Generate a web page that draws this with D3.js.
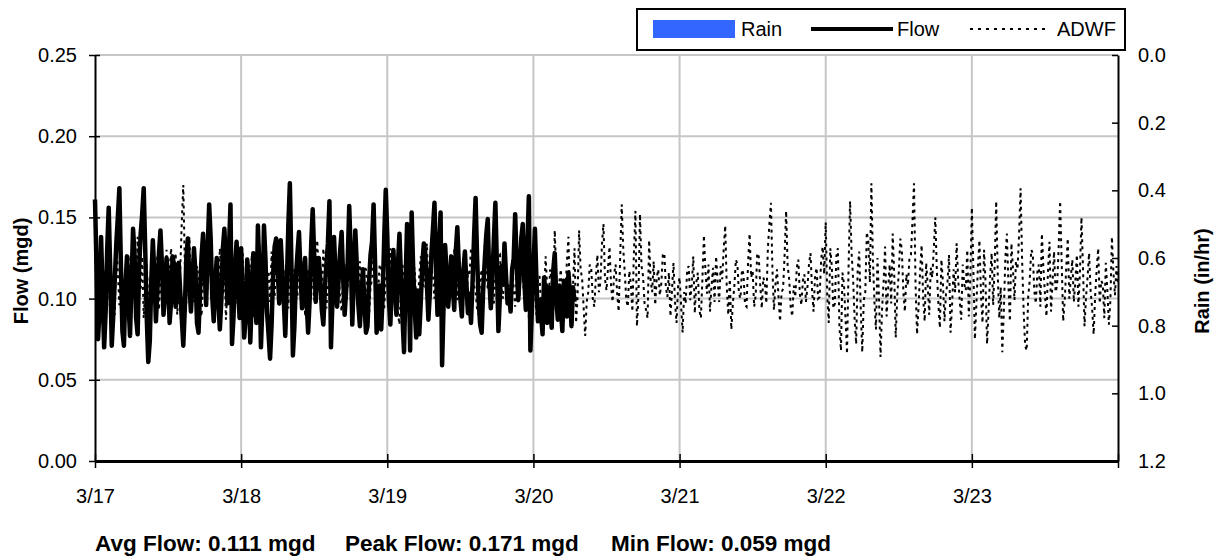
<!DOCTYPE html>
<html>
<head>
<meta charset="utf-8">
<script src="https://cdn.jsdelivr.net/npm/d3@7"></script>
<style>
  html, body { margin: 0; padding: 0; background: #fff; }
  svg { display: block; font-family: "Liberation Sans", Arial, sans-serif; }
</style>
</head>
<body>
<svg id="chart" width="1216" height="557"></svg>
<script>
// ---- data -------------------------------------------------------------
const startTime = Date.UTC(2021, 2, 17);      // 3/17 00:00
const endTime = Date.UTC(2021, 2, 24);        // 3/24 00:00
const flowStepMin = 15;                       // metered flow, 15-minute readings
const adwfStepMin = 15;                       // ADWF curve, 15-minute readings

const flowTicks = [0, 0.05, 0.10, 0.15, 0.20, 0.25];
const rainTicks = [0, 0.2, 0.4, 0.6, 0.8, 1.0, 1.2];

// Flow (mgd), 3/17 00:00 onward
const flowMgd = [
  0.161,0.120,0.075,0.093,0.138,0.104,0.070,0.092,
  0.130,0.156,0.118,0.071,0.090,0.112,0.134,0.150,
  0.168,0.121,0.080,0.071,0.108,0.126,0.098,0.077,
  0.110,0.143,0.127,0.088,0.078,0.119,0.140,0.152,
  0.168,0.130,0.088,0.061,0.074,0.112,0.136,0.115,
  0.086,0.105,0.128,0.142,0.120,0.090,0.102,0.125,
  0.113,0.085,0.098,0.126,0.120,0.095,0.108,0.122,
  0.104,0.088,0.071,0.094,0.125,0.137,0.110,0.092,
  0.108,0.131,0.116,0.085,0.079,0.104,0.126,0.140,
  0.118,0.096,0.130,0.158,0.137,0.101,0.086,0.110,
  0.125,0.099,0.081,0.099,0.131,0.143,0.120,0.097,
  0.130,0.158,0.072,0.089,0.119,0.135,0.106,0.088,
  // 3/18
  0.131,0.102,0.076,0.088,0.124,0.113,0.073,0.100,
  0.128,0.109,0.085,0.145,0.118,0.070,0.097,0.145,
  0.124,0.092,0.078,0.063,0.084,0.115,0.132,0.137,
  0.118,0.097,0.136,0.116,0.099,0.077,0.109,0.145,
  0.171,0.122,0.065,0.083,0.113,0.128,0.141,0.116,
  0.094,0.108,0.125,0.098,0.079,0.099,0.133,0.155,
  0.126,0.098,0.117,0.125,0.112,0.093,0.084,0.106,
  0.121,0.134,0.160,0.070,0.099,0.138,0.116,0.095,
  0.111,0.129,0.141,0.113,0.090,0.105,0.123,0.157,
  0.128,0.084,0.112,0.142,0.120,0.096,0.083,0.101,
  0.118,0.097,0.079,0.083,0.110,0.127,0.135,0.158,
  0.121,0.079,0.094,0.108,0.081,0.102,0.138,0.167,
  // 3/19
  0.139,0.100,0.084,0.107,0.130,0.108,0.090,0.121,
  0.140,0.113,0.088,0.067,0.109,0.146,0.122,0.068,
  0.153,0.119,0.094,0.076,0.105,0.078,0.098,0.121,
  0.134,0.127,0.110,0.087,0.104,0.128,0.143,0.159,
  0.118,0.090,0.131,0.153,0.059,0.097,0.133,0.115,
  0.095,0.108,0.126,0.107,0.093,0.129,0.144,0.120,
  0.100,0.089,0.117,0.129,0.109,0.091,0.103,0.085,
  0.110,0.138,0.162,0.125,0.099,0.084,0.079,0.106,
  0.123,0.139,0.149,0.112,0.094,0.112,0.136,0.159,
  0.121,0.080,0.102,0.120,0.109,0.134,0.114,0.097,
  0.103,0.092,0.118,0.124,0.152,0.121,0.099,0.115,
  0.137,0.146,0.112,0.093,0.131,0.163,0.068,0.094,
  // 3/20
  0.119,0.143,0.111,0.086,0.099,0.091,0.078,0.113,
  0.103,0.085,0.107,0.096,0.082,0.117,0.128,0.101,
  0.087,0.108,0.094,0.080,0.111,0.099,0.089,0.116,
  0.103,0.083,0.107,0.098
];

// Average dry weather flow (mgd), 3/17 00:00 to 3/24 00:00
const adwfMgd = [
  // 3/17
  0.128,0.112,0.104,0.122,0.090,0.101,0.118,0.095,0.101,0.124,0.085,0.099,0.112,0.090,0.134,0.117,
  0.096,0.118,0.076,0.094,0.110,0.098,0.127,0.105,0.092,0.120,0.118,0.097,0.138,0.112,0.105,0.126,
  0.088,0.107,0.121,0.099,0.097,0.115,0.132,0.104,0.108,0.127,0.093,0.110,0.124,0.096,0.112,0.130,
  0.099,0.117,0.131,0.102,0.116,0.128,0.090,0.106,0.118,0.147,0.170,0.121,0.097,0.126,0.138,0.109,
  0.125,0.098,0.101,0.120,0.113,0.094,0.089,0.111,0.128,0.103,0.107,0.119,0.120,0.099,0.095,0.116,
  0.114,0.092,0.131,0.115,0.102,0.124,0.087,0.108,0.119,0.097,0.106,0.123,0.126,0.104,0.093,0.110,
  // 3/18
  0.115,0.129,0.098,0.111,0.124,0.100,0.109,0.127,0.088,0.104,0.120,0.095,0.133,0.117,0.104,0.122,
  0.094,0.112,0.117,0.098,0.129,0.110,0.101,0.123,0.112,0.096,0.126,0.108,0.091,0.118,0.108,0.094,
  0.122,0.106,0.097,0.119,0.115,0.101,0.130,0.111,0.103,0.124,0.089,0.107,0.118,0.099,0.125,0.110,
  0.099,0.121,0.136,0.114,0.110,0.097,0.131,0.116,0.094,0.108,0.113,0.128,0.127,0.105,0.102,0.119,
  0.117,0.100,0.092,0.113,0.121,0.104,0.108,0.125,0.130,0.111,0.097,0.115,0.114,0.100,0.123,0.109,
  0.100,0.119,0.118,0.102,0.088,0.107,0.112,0.128,0.126,0.103,0.105,0.121,0.120,0.098,0.094,0.113,
  // 3/19
  0.116,0.102,0.131,0.112,0.098,0.117,0.109,0.091,0.084,0.105,0.122,0.100,0.113,0.129,0.127,0.107,
  0.101,0.116,0.119,0.099,0.095,0.114,0.126,0.109,0.108,0.121,0.134,0.112,0.097,0.118,0.115,0.100,
  0.128,0.108,0.093,0.115,0.111,0.096,0.122,0.106,0.102,0.120,0.117,0.101,0.131,0.113,0.099,0.118,
  0.108,0.096,0.125,0.110,0.096,0.117,0.114,0.131,0.129,0.108,0.104,0.093,0.090,0.112,0.118,0.103,
  0.133,0.115,0.106,0.124,0.121,0.100,0.097,0.114,0.112,0.126,0.127,0.106,0.100,0.117,0.119,0.104,
  0.109,0.095,0.124,0.107,0.095,0.113,0.116,0.102,0.130,0.111,0.103,0.122,0.113,0.088,0.098,0.117,
  // 3/20
  0.121,0.104,0.090,0.112,0.114,0.096,0.081,0.100,0.126,0.107,0.100,0.118,0.111,0.093,0.142,0.115,
  0.093,0.110,0.118,0.099,0.086,0.104,0.123,0.138,0.092,0.107,0.108,0.131,0.085,0.101,0.142,0.118,
  0.112,0.094,0.077,0.098,0.104,0.121,0.118,0.100,0.095,0.113,0.127,0.104,0.110,0.133,0.146,0.112,
  0.105,0.119,0.132,0.108,0.098,0.115,0.121,0.103,0.092,0.126,0.158,0.131,0.116,0.099,0.095,0.117,
  0.109,0.092,0.128,0.154,0.083,0.102,0.152,0.120,0.114,0.097,0.093,0.088,0.136,0.111,0.104,0.123,
  0.096,0.113,0.118,0.102,0.109,0.127,0.128,0.107,0.101,0.116,0.089,0.105,0.122,0.098,0.085,0.107,
  // 3/21
  0.113,0.096,0.079,0.104,0.097,0.118,0.120,0.099,0.108,0.126,0.091,0.110,0.116,0.093,0.088,0.112,
  0.139,0.117,0.103,0.121,0.092,0.108,0.119,0.098,0.126,0.111,0.098,0.120,0.112,0.131,0.145,0.107,
  0.090,0.112,0.081,0.097,0.108,0.124,0.121,0.103,0.100,0.118,0.115,0.096,0.095,0.122,0.140,0.113,
  0.117,0.095,0.102,0.128,0.126,0.108,0.094,0.113,0.110,0.097,0.131,0.146,0.159,0.118,0.093,0.109,
  0.118,0.101,0.086,0.104,0.106,0.127,0.154,0.120,0.112,0.095,0.089,0.108,0.101,0.119,0.124,0.103,
  0.096,0.111,0.115,0.098,0.107,0.121,0.128,0.106,0.092,0.114,0.119,0.100,0.101,0.124,0.132,0.115,
  // 3/22
  0.147,0.102,0.085,0.131,0.120,0.094,0.097,0.126,0.131,0.083,0.068,0.116,0.109,0.088,0.066,0.119,
  0.160,0.128,0.112,0.087,0.072,0.118,0.129,0.094,0.067,0.099,0.104,0.141,0.135,0.110,0.171,0.124,
  0.098,0.081,0.125,0.101,0.064,0.093,0.110,0.132,0.089,0.106,0.121,0.097,0.140,0.115,0.076,0.102,
  0.116,0.137,0.130,0.104,0.092,0.115,0.108,0.125,0.127,0.148,0.171,0.109,0.078,0.095,0.117,0.133,
  0.101,0.086,0.122,0.108,0.090,0.119,0.113,0.131,0.150,0.117,0.097,0.082,0.124,0.110,0.086,0.103,
  0.110,0.127,0.079,0.096,0.118,0.104,0.134,0.112,0.099,0.087,0.121,0.109,0.105,0.130,0.089,0.113,
  // 3/23
  0.156,0.118,0.075,0.097,0.120,0.136,0.102,0.085,0.130,0.110,0.072,0.093,0.114,0.128,0.096,0.121,
  0.160,0.115,0.088,0.107,0.067,0.092,0.125,0.140,0.109,0.086,0.134,0.118,0.099,0.123,0.118,0.139,
  0.168,0.124,0.093,0.071,0.068,0.101,0.111,0.130,0.128,0.105,0.097,0.116,0.121,0.095,0.140,0.119,
  0.103,0.089,0.117,0.135,0.092,0.110,0.129,0.104,0.108,0.131,0.160,0.122,0.086,0.099,0.119,0.137,
  0.100,0.113,0.124,0.098,0.111,0.127,0.095,0.116,0.150,0.119,0.083,0.101,0.113,0.128,0.105,0.094,
  0.078,0.102,0.118,0.131,0.097,0.111,0.109,0.088,0.122,0.105,0.084,0.099,0.138,0.116,0.102,0.120,
  0.110
];

// Rainfall (in/hr) - none recorded over the period
const rainInHr = [];

// ---- layout -------------------------------------------------------------
const svg = d3.select("#chart");
const plotL = 95, plotR = 1118, plotT = 55, plotB = 461;
const fontSize = 20;

const x = d3.scaleUtc().domain([startTime, endTime]).range([plotL, plotR]);
const yFlow = d3.scaleLinear().domain([0, 0.25]).range([plotB, plotT]);
const yRain = d3.scaleLinear().domain([0, 1.2]).range([plotT, plotB]);

const flowPts = flowMgd.map((v, i) => ({ t: startTime + i * flowStepMin * 60000, v }));
const adwfPts = adwfMgd.map((v, i) => ({ t: startTime + i * adwfStepMin * 60000, v }));

const dayTicks = d3.utcDay.range(startTime, endTime + 1);
const fmtDay = d3.utcFormat("%-m/%-d");

// gridlines
const grid = svg.append("g").attr("stroke", "#c6c6c6").attr("stroke-width", 2);
grid.selectAll("line.h").data(flowTicks.filter(d => d > 0)).join("line")
  .attr("x1", plotL).attr("x2", plotR)
  .attr("y1", d => yFlow(d)).attr("y2", d => yFlow(d));
grid.selectAll("line.v").data(dayTicks.slice(1, -1)).join("line")
  .attr("x1", d => x(d)).attr("x2", d => x(d))
  .attr("y1", plotT).attr("y2", plotB);

// rain bars (hanging from the top)
svg.append("g").attr("fill", "#3366ff")
  .selectAll("rect").data(rainInHr).join("rect")
  .attr("x", d => x(d.t)).attr("width", 3)
  .attr("y", plotT).attr("height", d => yRain(d.v) - plotT);

// ADWF dotted line
const line = d3.line().x(d => x(d.t)).y(d => yFlow(d.v));
svg.append("path").datum(adwfPts)
  .attr("d", line)
  .attr("fill", "none").attr("stroke", "#000")
  .attr("stroke-width", 2).attr("stroke-dasharray", "3,4");

// Flow line
svg.append("path").datum(flowPts)
  .attr("d", line)
  .attr("fill", "none").attr("stroke", "#000")
  .attr("stroke-width", 4.5).attr("stroke-linejoin", "round");

// axes
function styleAxis(g) {
  g.selectAll("text").attr("font-size", fontSize).attr("fill", "#000")
    .attr("font-family", "Liberation Sans, Arial, sans-serif");
  g.selectAll("line").attr("stroke", "#000").attr("stroke-width", 1.5);
  g.select(".domain").attr("stroke", "#000").attr("stroke-width", 2);
}

const gL = svg.append("g").attr("transform", `translate(${plotL},0)`)
  .call(d3.axisLeft(yFlow).tickValues(flowTicks).tickFormat(d3.format(".2f"))
    .tickSizeInner(6).tickSizeOuter(0).tickPadding(12));
gL.selectAll(".tick line").attr("x1", 5);
styleAxis(gL);

const gR = svg.append("g").attr("transform", `translate(${plotR},0)`)
  .call(d3.axisRight(yRain).tickValues(rainTicks).tickFormat(d3.format(".1f"))
    .tickSizeInner(-6).tickSizeOuter(0).tickPadding(20));
styleAxis(gR);

const gB = svg.append("g").attr("transform", `translate(0,${plotB})`)
  .call(d3.axisBottom(x).tickValues(dayTicks)
    .tickFormat(d => d.getTime() < endTime ? fmtDay(d) : "")
    .tickSizeInner(7).tickSizeOuter(0).tickPadding(21));
gB.selectAll(".tick line").attr("y1", -7);
styleAxis(gB);
gB.select(".domain").attr("stroke-width", 3);

// axis titles
svg.append("text")
  .attr("transform", "translate(28,271) rotate(-90)")
  .attr("text-anchor", "middle").attr("font-size", fontSize).attr("font-weight", "bold")
  .text("Flow (mgd)");
svg.append("text")
  .attr("transform", "translate(1209,281) rotate(-90)")
  .attr("text-anchor", "middle").attr("font-size", fontSize).attr("font-weight", "bold")
  .text("Rain (in/hr)");

// legend
const lg = svg.append("g");
lg.append("rect").attr("x", 637).attr("y", 9).attr("width", 488).attr("height", 41)
  .attr("fill", "#fff").attr("stroke", "#000").attr("stroke-width", 2);
lg.append("rect").attr("x", 653).attr("y", 20).attr("width", 82).attr("height", 18)
  .attr("fill", "#3366ff");
lg.append("text").attr("x", 741).attr("y", 36).attr("font-size", fontSize).text("Rain");
lg.append("line").attr("x1", 811).attr("x2", 893).attr("y1", 29).attr("y2", 29)
  .attr("stroke", "#000").attr("stroke-width", 4);
lg.append("text").attr("x", 897).attr("y", 36).attr("font-size", fontSize).text("Flow");
lg.append("line").attr("x1", 970).attr("x2", 1050).attr("y1", 29).attr("y2", 29)
  .attr("stroke", "#000").attr("stroke-width", 2).attr("stroke-dasharray", "3,5");
lg.append("text").attr("x", 1057).attr("y", 36).attr("font-size", fontSize).text("ADWF");

// summary statistics
const fmt3 = d3.format(".3f");
const stats = [
  { x: 95, label: `Avg Flow: ${fmt3(d3.mean(flowMgd))} mgd` },
  { x: 345, label: `Peak Flow: ${fmt3(d3.max(flowMgd))} mgd` },
  { x: 611, label: `Min Flow: ${fmt3(d3.min(flowMgd))} mgd` }
];
svg.append("g").selectAll("text").data(stats).join("text")
  .attr("x", d => d.x).attr("y", 551)
  .attr("font-size", 22.5).attr("font-weight", "bold")
  .text(d => d.label);
</script>
</body>
</html>
